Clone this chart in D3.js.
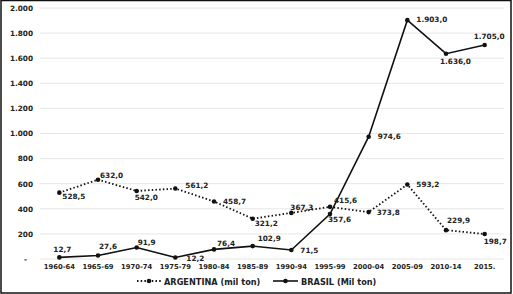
<!DOCTYPE html>
<html><head><meta charset="utf-8">
<script src="https://cdn.jsdelivr.net/npm/d3@7"></script>
<style>body{margin:0;background:#fff}svg{display:block}text{font-family:"DejaVu Sans",Verdana,sans-serif;font-weight:bold;fill:#222}</style>
</head><body>
<svg id="c" width="513" height="294"></svg>
<script>
const categories = ["1960-64","1965-69","1970-74","1975-79","1980-84","1985-89","1990-94","1995-99","2000-04","2005-09","2010-14","2015."];
const argentina = [528.5,632.0,542.0,561.2,458.7,321.2,367.3,415.6,373.8,593.2,229.9,198.7];
const brasil = [12.7,27.6,91.9,12.2,76.4,102.9,71.5,357.6,974.6,1903.0,1636.0,1705.0];
const yTicks = [0,200,400,600,800,1000,1200,1400,1600,1800,2000];
const seriesNames = ["ARGENTINA (mil ton)","BRASIL (Mil ton)"];
// label offsets (dx, dy of baseline from point)
const argOff = [[3,6],[2,-2],[-2,9],[10,-1],[9,3],[2,7],[-1,-3],[4,-4],[8,3],[9,2],[1,-7],[-1,10]];
const braOff = [[-6,-5],[1,-7],[1,-2],[11,4],[3,-3],[5,-5],[9,3],[-2,8],[9,2],[9,2],[-6,10],[-11,-6]];

const svg = d3.select("#c");
const fmt = v => {
  const s = v.toFixed(1).split(".");
  const int = s[0].replace(/\B(?=(\d{3})+(?!\d))/g, ".");
  return int + "," + s[1];
};
const x = d3.scaleBand().domain(categories).range([40,504]);
const y = d3.scaleLinear().domain([0,2000]).range([259,8]);
const cx = c => x(c) + x.bandwidth()/2;

// border
svg.append("rect").attr("x",1).attr("y",0.5).attr("width",510).attr("height",292.5)
  .attr("fill","none").attr("stroke","#111").attr("stroke-width",1.5);

// gridlines
svg.append("g").selectAll("line").data(yTicks).join("line")
  .attr("x1",40).attr("x2",504).attr("y1",d=>y(d)).attr("y2",d=>y(d))
  .attr("stroke","#e6e6e6").attr("stroke-width",1);

// y axis labels
const yAxis = d3.axisLeft(y).tickValues(yTicks).tickSize(0).tickPadding(0)
  .tickFormat(d => d===0 ? "-" : d3.format(",")(d).replace(/,/g,"."));
const gy = svg.append("g").attr("transform","translate(33,0)").call(yAxis);
gy.select(".domain").remove();
gy.selectAll("text").style("font-size","7.3px").style("font-family","DejaVu Sans").style("font-weight","bold").attr("fill","#222");
gy.selectAll(".tick").filter(d=>d===0).select("text").attr("fill","#aaa").attr("dx","-6");

// x axis labels
const xAxis = d3.axisBottom(x).tickSize(0).tickPadding(0);
const gx = svg.append("g").attr("transform","translate(0,264)").call(xAxis);
gx.select(".domain").remove();
gx.selectAll("text").style("font-size","6.8px").style("font-family","DejaVu Sans").style("font-weight","bold").attr("fill","#222");

const line = d3.line().x((d,i)=>cx(categories[i])).y(d=>y(d));

// Argentina dotted
svg.append("path").datum(argentina).attr("d",line).attr("fill","none")
  .attr("stroke","#111").attr("stroke-width",1.8).attr("stroke-dasharray","1.5,2.2");
svg.append("g").selectAll("circle").data(argentina).join("circle")
  .attr("cx",(d,i)=>cx(categories[i])).attr("cy",d=>y(d)).attr("r",2.3).attr("fill","#111");

// Brasil solid
svg.append("path").datum(brasil).attr("d",line).attr("fill","none")
  .attr("stroke","#111").attr("stroke-width",1.6);
svg.append("g").selectAll("circle").data(brasil).join("circle")
  .attr("cx",(d,i)=>cx(categories[i])).attr("cy",d=>y(d)).attr("r",2.3).attr("fill","#111");

// labels
const lab = (data, off) => svg.append("g").selectAll("text").data(data).join("text")
  .attr("x",(d,i)=>cx(categories[i]) + off[i][0]).attr("y",(d,i)=>y(d)+off[i][1])
  .style("font-size","7.3px").text(d=>fmt(d));
lab(argentina, argOff);
lab(brasil, braOff);

// legend
const lg = svg.append("g");
lg.append("line").attr("x1",137).attr("x2",161).attr("y1",281).attr("y2",281)
  .attr("stroke","#111").attr("stroke-width",1.8).attr("stroke-dasharray","1.5,2.2");
lg.append("circle").attr("cx",149).attr("cy",281).attr("r",2.3).attr("fill","#111");
lg.append("text").attr("x",164).attr("y",284.5).style("font-size","8.2px").text(seriesNames[0]);
lg.append("line").attr("x1",273).attr("x2",298).attr("y1",281).attr("y2",281)
  .attr("stroke","#111").attr("stroke-width",1.6);
lg.append("circle").attr("cx",285.5).attr("cy",281).attr("r",2.3).attr("fill","#111");
lg.append("text").attr("x",301).attr("y",284.5).style("font-size","8.2px").text(seriesNames[1]);
</script>
</body></html>
